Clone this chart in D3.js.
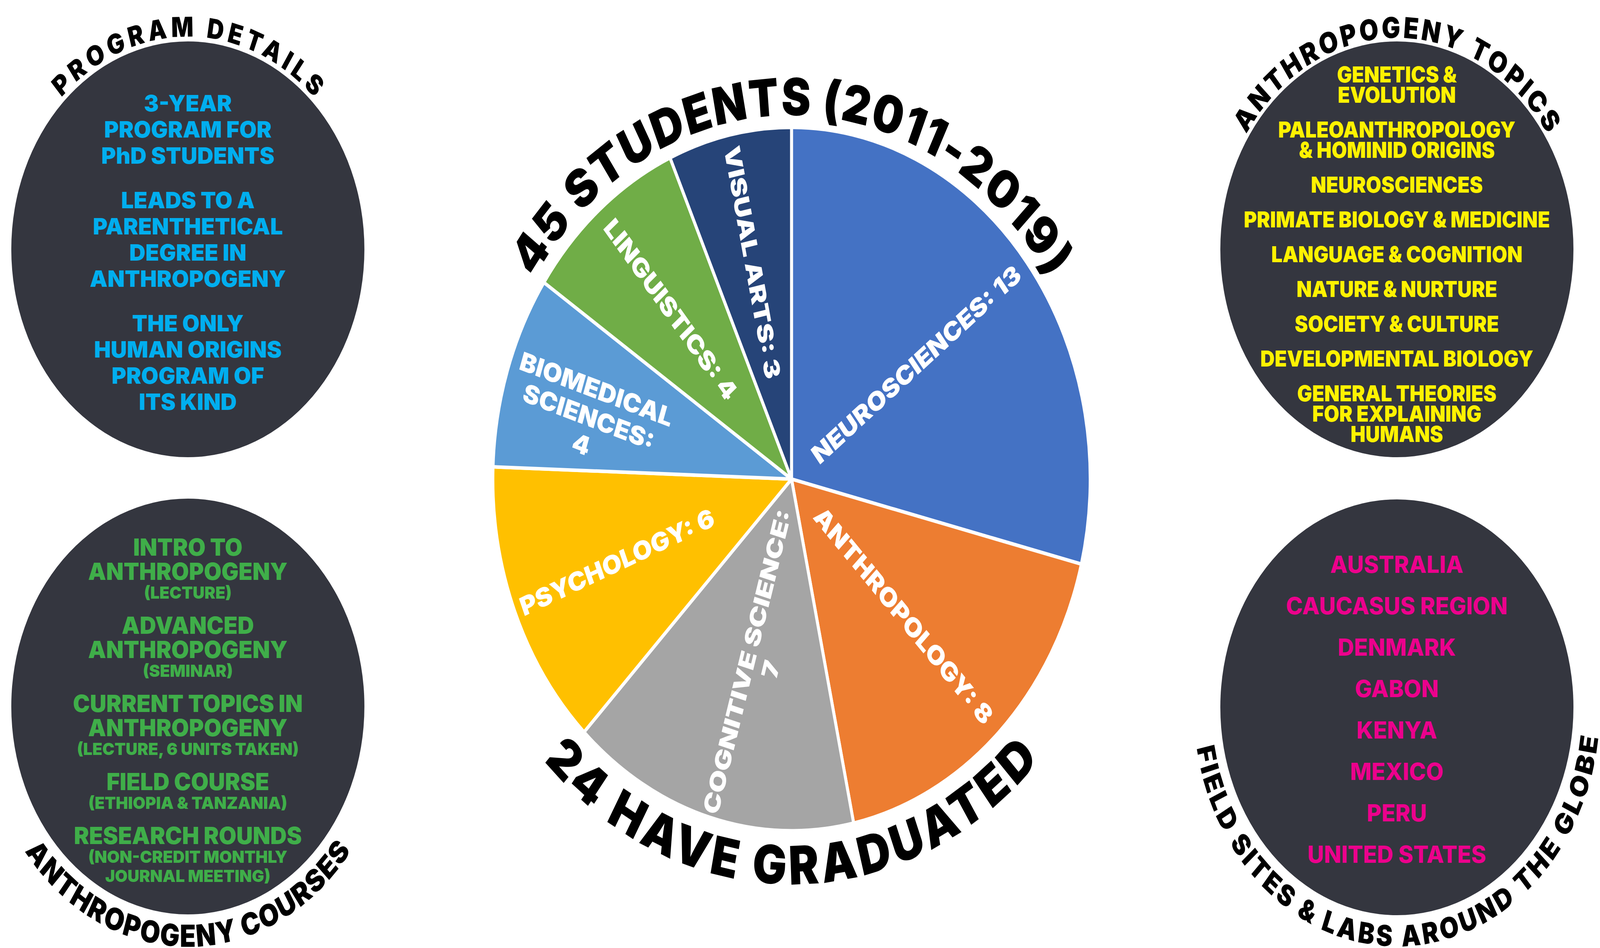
<!DOCTYPE html>
<html><head><meta charset="utf-8">
<script src="https://cdn.jsdelivr.net/npm/d3@7"></script>
<style>html,body{margin:0;padding:0;background:#fff;overflow:hidden;width:100%;height:100%}svg{display:block}</style>
</head><body><svg id="chart"></svg>
<script>
// ---------------- DATA ----------------
const categories = ["Neurosciences","Anthropology","Cognitive Science","Psychology","Biomedical Sciences","Linguistics","Visual Arts"];
const students = [13, 8, 7, 6, 4, 4, 3];
const titleTop = "45 STUDENTS (2011-2019)";
const titleBottom = "24 HAVE GRADUATED";

const detailsTitle = "PROGRAM DETAILS";
const detailsGroups = [
  ["3-YEAR","PROGRAM FOR","PhD STUDENTS"],
  ["LEADS TO A","PARENTHETICAL","DEGREE IN","ANTHROPOGENY"],
  ["THE ONLY","HUMAN ORIGINS","PROGRAM OF","ITS KIND"]
];
const topicsTitle = "ANTHROPOGENY TOPICS";
const topicsGroups = [
  ["GENETICS &","EVOLUTION"],
  ["PALEOANTHROPOLOGY","& HOMINID ORIGINS"],
  ["NEUROSCIENCES"],
  ["PRIMATE BIOLOGY & MEDICINE"],
  ["LANGUAGE & COGNITION"],
  ["NATURE & NURTURE"],
  ["SOCIETY & CULTURE"],
  ["DEVELOPMENTAL BIOLOGY"],
  ["GENERAL THEORIES","FOR EXPLAINING","HUMANS"]
];
const coursesTitle = "ANTHROPOGENY COURSES";
const courseNames = [
  ["INTRO TO","ANTHROPOGENY"],
  ["ADVANCED","ANTHROPOGENY"],
  ["CURRENT TOPICS IN","ANTHROPOGENY"],
  ["FIELD COURSE"],
  ["RESEARCH ROUNDS"]
];
const courseNotes = [
  ["(LECTURE)"],
  ["(SEMINAR)"],
  ["(LECTURE, 6 UNITS TAKEN)"],
  ["(ETHIOPIA & TANZANIA)"],
  ["(NON-CREDIT MONTHLY","JOURNAL MEETING)"]
];
const sitesTitle = "FIELD SITES & LABS AROUND THE GLOBE";
const sitesList = ["AUSTRALIA","CAUCASUS REGION","DENMARK","GABON","KENYA","MEXICO","PERU","UNITED STATES"];

// ---------------- LAYOUT / STYLE ----------------
const W = 4821, H = 2426;
const FONT = "Inter, Roboto, 'Noto Sans', sans-serif";
const SX = 1.14;
const sliceColors = ["#4472C4","#ED7D31","#A5A5A5","#FFC000","#5B9BD5","#70AD47","#264478"];
const labelRadius = [0.53, 0.54, 0.54, 0.63, 0.70, 0.63, 0.63];
const labelWrap = [null, null, [2,1], null, [1,1,1], null, null];
const pieC = {x: 2385, y: 1226, r: 900};
const circleR = 532;
const circleFill = "#34363F";

const vw = window.innerWidth, vh = window.innerHeight;
const svg = d3.select("#chart").attr("width", vw).attr("height", vh)
  .attr("viewBox", `0 0 ${W} ${H}`).attr("preserveAspectRatio", "none");
svg.append("rect").attr("width", W).attr("height", H).attr("fill", "#fff");
const defs = svg.append("defs");

function stretch(sel, k) {
  sel.each(function () {
    const L = this.getComputedTextLength();
    d3.select(this).attr("textLength", L * (k || SX)).attr("lengthAdjust", "spacingAndGlyphs");
  });
}

let pathId = 0;
function arcText(cx, cy, r, centerDeg, spanDeg, text, fs, bottom, weight) {
  const id = "arcp" + (pathId++);
  const rad = d => d * Math.PI / 180;
  const pt = th => [cx + r * Math.sin(rad(th)), cy - r * Math.cos(rad(th))];
  const ext = 150;
  let p0, p1, sweep;
  if (!bottom) { p0 = pt(centerDeg - ext); p1 = pt(centerDeg + ext); sweep = 1; }
  else { p0 = pt(centerDeg + ext); p1 = pt(centerDeg - ext); sweep = 0; }
  defs.append("path").attr("id", id).attr("d", `M${p0[0]},${p0[1]} A${r},${r} 0 1 ${sweep} ${p1[0]},${p1[1]}`);
  const tmp = svg.append("text").attr("font-family", FONT).attr("font-weight", weight || 900)
    .attr("font-size", fs).text(text);
  const nat = tmp.node().getComputedTextLength();
  tmp.remove();
  const target = r * rad(spanDeg);
  const n = text.length;
  const ls = (target - nat) / (n - 1);
  const pathLen = r * rad(2 * ext);
  svg.append("text").attr("font-family", FONT).attr("font-weight", weight || 900)
    .attr("font-size", fs).attr("fill", "#000").attr("letter-spacing", ls)
    .append("textPath").attr("href", "#" + id)
    .attr("startOffset", pathLen / 2 + ls / 2).attr("text-anchor", "middle")
    .text(text);
}

// ---------------- PIE ----------------
const pieData = categories.map((c, i) => ({name: c, value: students[i], color: sliceColors[i]}));
const pie = d3.pie().sort(null).value(d => d.value);
const arcs = pie(pieData);
const arcGen = d3.arc().innerRadius(0).outerRadius(pieC.r);
const gPie = svg.append("g").attr("transform", `translate(${pieC.x},${pieC.y})`);
gPie.selectAll("path.slice").data(arcs).join("path").attr("class", "slice")
  .attr("d", arcGen).attr("fill", d => d.data.color)
  .attr("stroke", "#fff").attr("stroke-width", 9).attr("stroke-linejoin", "round");

const labFs = 66, labLh = 74;
arcs.forEach((a, i) => {
  const mid = (a.startAngle + a.endAngle) / 2;
  const deg = mid * 180 / Math.PI;
  const rr = pieC.r * labelRadius[i];
  const x = rr * Math.sin(mid), y = -rr * Math.cos(mid);
  const rot = deg < 180 ? deg - 90 : deg - 270;
  const words = (a.data.name.toUpperCase() + ": " + a.data.value).split(" ");
  const wrap = labelWrap[i] || [words.length];
  const lines = []; let k = 0;
  wrap.forEach(cnt => { lines.push(words.slice(k, k + cnt).join(" ")); k += cnt; });
  const lg = gPie.append("g").attr("transform", `translate(${x},${y}) rotate(${rot})`);
  const shift = lines.length > 1 ? labLh / 2 : 0;
  lines.forEach((t, j) => {
    lg.append("text").attr("x", 0).attr("y", (j - (lines.length - 1) / 2) * labLh + shift + 0.36 * labFs)
      .attr("text-anchor", "middle").attr("font-family", FONT).attr("font-weight", 900)
      .attr("font-size", labFs).attr("fill", "#fff").text(t);
  });
});
stretch(gPie.selectAll("text"));

arcText(pieC.x, pieC.y, 931, 0, 113, titleTop, 132, false);
arcText(pieC.x, pieC.y, 1037, 180, 92, titleBottom, 136, true);

// ---------------- SIDE CIRCLES ----------------
const circles = [
  {x: 566, y: 638}, {x: 566, y: 1808}, {x: 4209, y: 638}, {x: 4209, y: 1810}
];
svg.selectAll("circle.info").data(circles).join("circle").attr("class", "info")
  .attr("cx", d => d.x).attr("cy", d => d.y).attr("r", circleR).attr("fill", circleFill);

function block(cx, cy, items, color, k) {
  let ys = [], y = 0;
  items.forEach((it, i) => { if (i > 0) y += it.pitch; ys.push(y); });
  const off = cy - (ys[0] + ys[ys.length - 1]) / 2;
  const g = svg.append("g");
  items.forEach((it, i) => {
    g.append("text").attr("x", cx).attr("y", ys[i] + off + 0.36 * it.fs)
      .attr("text-anchor", "middle").attr("font-family", FONT)
      .attr("font-weight", it.weight).attr("font-size", it.fs).attr("fill", color).text(it.text);
  });
  stretch(g.selectAll("text"), k);
}

{
  const items = [];
  detailsGroups.forEach(grp => grp.forEach((t, li) => items.push({text: t, fs: 58, weight: 900, pitch: li === 0 ? 114 : 67})));
  block(circles[0].x, circles[0].y + 8, items, "#00AEEF", 1.16);
  arcText(circles[0].x, circles[0].y, 544, 0, 89, detailsTitle, 70, false);
}
{
  const items = []; let prev = null;
  courseNames.forEach((grp, gi) => {
    grp.forEach(t => { items.push({text: t, fs: 60, weight: 900, pitch: prev === null ? 0 : (prev === "s" ? 83 : 62)}); prev = "b"; });
    courseNotes[gi].forEach(t => { items.push({text: t, fs: 43, weight: 900, pitch: prev === "b" ? 55 : 49}); prev = "s"; });
  });
  block(circles[1].x, circles[1].y + 13, items, "#3FAE49");
  arcText(circles[1].x, circles[1].y, 615, 180, 106, coursesTitle, 78, true);
}
{
  const items = [];
  topicsGroups.forEach(grp => grp.forEach((t, li) => items.push({text: t, fs: 57, weight: 900, pitch: li === 0 ? 89 : 52})));
  block(circles[2].x, circles[2].y + 12, items, "#FFF200", 1.05);
  arcText(circles[2].x, circles[2].y, 541, 0, 114, topicsTitle, 74, false);
}
{
  const items = sitesList.map(t => ({text: t, fs: 60, weight: 800, pitch: 106}));
  block(circles[3].x, circles[3].y + 5, items, "#EC008C");
  arcText(circles[3].x, circles[3].y, 612, 178.75, 163, sitesTitle, 74, true);
}
</script>
</body></html>
